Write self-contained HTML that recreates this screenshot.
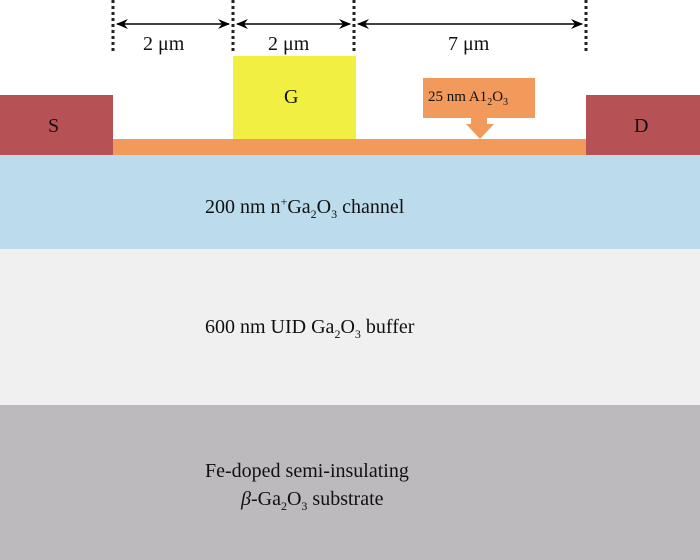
<!DOCTYPE html>
<html><head><style>
body{margin:0;width:700px;height:560px;position:relative;overflow:hidden;background:#fff;font-family:"Liberation Serif",serif;color:#111}
.a{position:absolute}
.t{position:absolute;font-size:20px;white-space:nowrap}
sub,sup{font-size:12px;line-height:0}
</style></head><body>
<div class="a" style="left:0;top:155px;width:700px;height:94px;background:#bcdbec"></div>
<div class="a" style="left:0;top:249px;width:700px;height:156px;background:#f0f0f0"></div>
<div class="a" style="left:0;top:405px;width:700px;height:155px;background:#bcbabc"></div>
<div class="a" style="left:113px;top:139px;width:473px;height:16px;background:#f19a5c"></div>
<div class="a" style="left:0;top:95px;width:113px;height:60px;background:#b65255"></div>
<div class="a" style="left:586px;top:95px;width:114px;height:60px;background:#b65255"></div>
<div class="a" style="left:233px;top:56px;width:123px;height:83px;background:#f0ef42"></div>
<div class="a" style="left:423px;top:78px;width:112px;height:40px;background:#f19a5c"></div>
<svg class="a" style="left:0;top:0" width="700" height="160">
<polygon points="471,117 487,117 487,124 494,124 480,139 466,124 471,124" fill="#f19a5c"/>
<g stroke="#222" stroke-width="3" stroke-dasharray="3,3">
<line x1="113" y1="0" x2="113" y2="52"/><line x1="233" y1="0" x2="233" y2="52"/>
<line x1="354" y1="0" x2="354" y2="52"/><line x1="586" y1="0" x2="586" y2="52"/></g>
<g stroke="#000" stroke-width="1.5"><line x1="117" y1="24" x2="229" y2="24"/><line x1="237" y1="24" x2="350" y2="24"/><line x1="358" y1="24" x2="582" y2="24"/></g>
<g fill="#000">
<polygon points="116,24 128,19 124,24 128,29"/><polygon points="230,24 218,19 222,24 218,29"/>
<polygon points="236,24 248,19 244,24 248,29"/><polygon points="351,24 339,19 343,24 339,29"/>
<polygon points="357,24 369,19 365,24 369,29"/><polygon points="583,24 571,19 575,24 571,29"/>
</g></svg>
<div class="t" style="left:143px;top:33px">2 μm</div>
<div class="t" style="left:268px;top:33px">2 μm</div>
<div class="t" style="left:448px;top:33px">7 μm</div>
<div class="t" style="left:284px;top:86px">G</div>
<div class="t" style="left:48px;top:115px">S</div>
<div class="t" style="left:634px;top:115px">D</div>
<div class="t" style="left:428px;top:89px;font-size:15px">25 nm A1<sub style="font-size:10px">2</sub>O<sub style="font-size:10px">3</sub></div>
<div class="t" style="left:205px;top:196px">200 nm n<sup>+</sup>Ga<sub>2</sub>O<sub>3</sub> channel</div>
<div class="t" style="left:205px;top:316px">600 nm UID Ga<sub>2</sub>O<sub>3</sub> buffer</div>
<div class="t" style="left:205px;top:460px">Fe-doped semi-insulating</div>
<div class="t" style="left:241px;top:488px"><i>β</i>-Ga<sub>2</sub>O<sub>3</sub> substrate</div>
</body></html>
